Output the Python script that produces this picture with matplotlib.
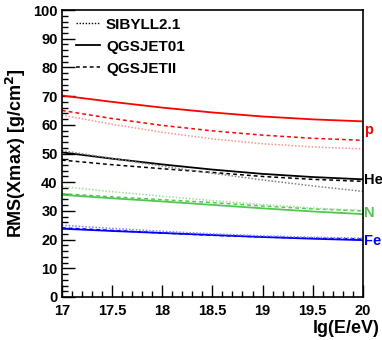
import matplotlib
matplotlib.use("Agg")
import matplotlib.pyplot as plt
from matplotlib.ticker import MultipleLocator

plt.rcParams['font.family'] = ['Liberation Sans', 'DejaVu Sans']

lgE = [17.0, 17.5, 18.0, 18.5, 19.0, 19.5, 20.0]

p_qgs01 = [70.2, 68.0, 66.0, 64.3, 62.9, 61.9, 61.2]
p_qgsII = [65.0, 62.2, 59.8, 57.9, 56.4, 55.3, 54.6]
p_sib = [63.4, 60.2, 57.4, 55.1, 53.4, 52.3, 51.6]
he_qgs01 = [50.4, 48.2, 46.2, 44.4, 42.9, 41.8, 41.0]
he_qgsII = [47.7, 46.1, 44.7, 43.4, 42.0, 41.0, 40.3]
he_sib = [51.0, 48.3, 45.6, 43.1, 40.8, 38.7, 36.8]
n_qgs01 = [35.6, 34.4, 33.3, 32.1, 30.9, 29.8, 28.9]
n_qgsII = [36.0, 34.9, 33.9, 32.9, 31.7, 30.7, 30.0]
n_sib = [38.5, 36.7, 35.1, 33.6, 32.2, 31.0, 30.1]
fe_qgs01 = [23.8, 23.0, 22.3, 21.6, 20.9, 20.3, 19.8]
fe_qgsII = [24.1, 23.2, 22.3, 21.5, 20.9, 20.5, 20.2]
fe_sib = [25.0, 23.9, 22.9, 22.0, 21.3, 20.8, 20.5]

models = ["SIBYLL2.1", "QGSJET01", "QGSJETII"]
primaries = ["p", "He", "N", "Fe"]

fig = plt.figure(figsize=(3.82, 3.40), dpi=100)
ax = fig.add_axes([0.162, 0.1265, 0.788, 0.844])

series = [
    (p_qgs01, '#ff0000', '-', 1.3),
    (p_qgsII, '#ff0000', (0, (2.5, 2)), 1.1),
    (p_sib, '#ff9090', (0, (1, 1.2)), 1.1),
    (he_qgs01, '#000000', '-', 1.3),
    (he_qgsII, '#000000', (0, (2.5, 2)), 1.1),
    (he_sib, '#808080', (0, (1, 1.2)), 1.1),
    (n_qgs01, '#50c850', '-', 1.3),
    (n_qgsII, '#50c850', (0, (2.5, 2)), 1.1),
    (n_sib, '#98e098', (0, (1, 1.2)), 1.1),
    (fe_qgs01, '#0000ff', '-', 1.3),
    (fe_qgsII, '#0000ff', (0, (2.5, 2)), 1.1),
    (fe_sib, '#8080ff', (0, (1, 1.2)), 1.1),
]
for vals, c, ls, lw in series:
    ax.plot(lgE, vals, color=c, linestyle=ls, linewidth=lw)

# legend (black samples)
h1, = ax.plot([], [], color='black', linestyle=(0, (1, 1.2)), linewidth=1.0)
h2, = ax.plot([], [], color='black', linestyle='-', linewidth=1.3)
h3, = ax.plot([], [], color='black', linestyle=(0, (2.5, 2)), linewidth=1.1)
leg = ax.legend([h1, h2, h3], models, loc='upper left', frameon=False,
                prop={'weight': 'bold', 'size': 11}, handlelength=1.6,
                labelspacing=0.52, bbox_to_anchor=(0.02, 1.0), handletextpad=0.4,
                borderaxespad=0.1)

ax.set_xlim(17, 20)
ax.set_ylim(0, 100)
ax.xaxis.set_major_locator(MultipleLocator(0.5))
ax.xaxis.set_minor_locator(MultipleLocator(0.1))
ax.yaxis.set_major_locator(MultipleLocator(10))
ax.yaxis.set_minor_locator(MultipleLocator(2))
ax.tick_params(which='both', direction='in', top=False, right=False, width=1.0)
ax.tick_params(which='major', length=9, labelsize=10.5)
ax.tick_params(which='minor', length=4.5)
ax.set_xticks([17, 17.5, 18, 18.5, 19, 19.5, 20])
ax.set_xticklabels(['17', '17.5', '18', '18.5', '19', '19.5', '20'])
for lab in ax.get_xticklabels() + ax.get_yticklabels():
    lab.set_fontweight('bold')
ax.tick_params(axis='x', pad=5)
ax.tick_params(axis='y', pad=3)
for s in ax.spines.values():
    s.set_linewidth(1.2)

ax.set_ylabel('RMS(Xmax) [g/cm$^\\mathbf{2}$]', fontsize=13, fontweight='bold', labelpad=4)
fig.text(0.993, 0.035, 'lg(E/eV)', fontsize=13, fontweight='bold', ha='right', va='center')

label_vals = [p_qgs01[-1] - 3.0, he_qgs01[-1] - 0.4, n_qgs01[-1] + 0.2, fe_qgs01[-1] - 0.2]
label_cols = ['#ff0000', '#000000', '#50c850', '#0000ff']
for name, v, c in zip(primaries, label_vals, label_cols):
    ax.text(1.004, v, name, transform=ax.get_yaxis_transform(), color=c,
            fontsize=10.5, fontweight='bold', va='center', ha='left', clip_on=False)

fig.savefig('out.png', dpi=100)
